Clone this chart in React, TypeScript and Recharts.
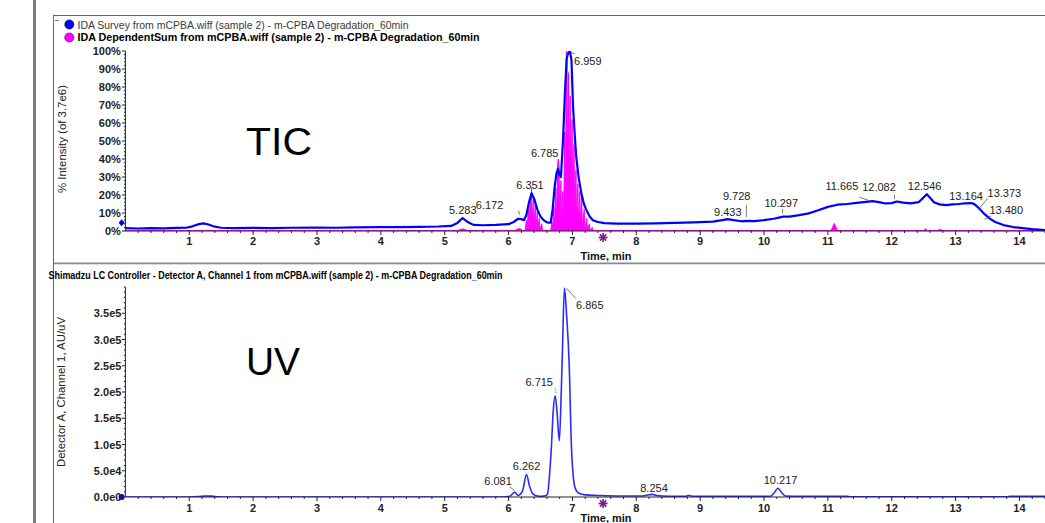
import React from 'react';
import { ComposedChart, Line, Area, XAxis, YAxis, Scatter, ReferenceDot } from 'recharts';

const FONT = '"Liberation Sans", Arial, Helvetica, sans-serif';

// ---------- DATA ----------
// IDA Survey TIC, % intensity (of 3.7e6): [time (min), %]
const ticSurvey: [number, number][] = [
  [0, 1.6], [0.2, 1.4], [0.4, 1.6], [0.6, 1.5], [0.8, 1.7], [0.95, 1.8], [1.05, 2.6], [1.15, 3.8],
  [1.22, 4.2], [1.3, 3.6], [1.4, 2.4], [1.5, 1.8], [1.7, 1.6], [2.0, 1.7], [2.3, 1.6], [2.6, 1.8],
  [3.0, 1.9], [3.3, 1.8], [3.6, 2.0], [4.0, 2.1], [4.3, 2.2], [4.6, 2.3], [4.9, 2.5], [5.1, 2.8],
  [5.2, 4.5], [5.28, 7.2], [5.36, 5.0], [5.45, 3.4], [5.6, 3.2], [5.8, 3.4], [6.0, 3.8], [6.08, 5.0],
  [6.15, 6.8], [6.2, 6.6], [6.24, 6.0], [6.28, 9], [6.32, 16], [6.36, 21], [6.4, 18], [6.45, 12],
  [6.5, 8], [6.55, 6], [6.6, 4.8], [6.66, 4.6], [6.69, 12], [6.72, 24], [6.75, 32], [6.775, 34.6],
  [6.8, 31], [6.82, 30], [6.855, 52], [6.88, 75], [6.91, 96], [6.935, 99], [6.96, 100], [6.985, 95],
  [7.01, 69], [7.035, 54], [7.06, 41], [7.1, 29], [7.14, 21], [7.18, 15], [7.22, 11.6], [7.27, 8],
  [7.32, 6], [7.4, 5], [7.5, 4.4], [7.7, 4.1], [8.0, 4.1], [8.3, 4.2], [8.6, 4.5], [8.9, 4.8],
  [9.2, 5.2], [9.35, 6.0], [9.43, 6.6], [9.52, 6.0], [9.65, 5.4], [9.73, 5.6], [9.85, 5.5], [10.0, 6.0],
  [10.15, 6.8], [10.3, 8.0], [10.4, 8.0], [10.55, 8.8], [10.7, 9.8], [10.85, 11.5], [11.0, 13.4],
  [11.15, 14.6], [11.3, 15.0], [11.45, 15.6], [11.6, 16.2], [11.7, 16.6], [11.8, 16.0], [11.9, 15.3],
  [12.0, 15.5], [12.08, 16.4], [12.18, 15.8], [12.3, 15.3], [12.42, 16.0], [12.48, 18.0], [12.55, 20.4],
  [12.6, 18.5], [12.66, 16.0], [12.75, 14.8], [12.85, 14.4], [12.95, 14.8], [13.05, 15.0], [13.15, 15.4],
  [13.25, 15.5], [13.3, 14.8], [13.37, 12.5], [13.45, 9.5], [13.53, 7.0], [13.62, 5.0], [13.75, 3.3],
  [13.9, 2.2], [14.05, 1.6], [14.2, 1.0], [14.4, 0.5],
];

// IDA Dependent Sum, % intensity: [time (min), %]
const idaDependent: [number, number][] = [
  [0, 0.3], [5.2, 0.3], [5.28, 1.2], [5.36, 0.3], [6.1, 0.3], [6.17, 1.5], [6.22, 0.3], [6.26, 0.3],
  [6.28, 6], [6.29, 0.5], [6.31, 12], [6.32, 1], [6.34, 18], [6.35, 2], [6.36, 24], [6.37, 3],
  [6.39, 19], [6.4, 2], [6.42, 15], [6.43, 1], [6.45, 11], [6.46, 1], [6.48, 7], [6.49, 0.5],
  [6.52, 4], [6.53, 0.3], [6.66, 0.3], [6.68, 5], [6.69, 0.5], [6.71, 14], [6.72, 1], [6.74, 24],
  [6.75, 3], [6.77, 38], [6.78, 40], [6.79, 36], [6.8, 3], [6.82, 28], [6.83, 2], [6.85, 22],
  [6.86, 2], [6.88, 55], [6.89, 5], [6.905, 100], [6.915, 98], [6.925, 10], [6.94, 88], [6.95, 10],
  [6.965, 75], [6.975, 8], [6.995, 62], [7.005, 6], [7.025, 48], [7.035, 5], [7.055, 34], [7.065, 3],
  [7.085, 26], [7.095, 2], [7.115, 22], [7.125, 2], [7.145, 20], [7.155, 2], [7.185, 12], [7.195, 1],
  [7.225, 7], [7.235, 0.5], [7.265, 4], [7.275, 0.3], [7.31, 2], [7.32, 0.3], [11.05, 0.3],
  [11.1, 4.2], [11.15, 0.3], [12.5, 0.3], [12.53, 1.2], [12.56, 0.3], [12.72, 0.3], [12.76, 1.0],
  [12.8, 0.3], [14.4, 0.3],
];

// Shimadzu Detector A, Channel 1 (AU/uV): [time (min), signal]
const uvChannel1: [number, number][] = [
  [0, 0], [1.0, 0], [1.15, 800], [1.25, 2000], [1.35, 1600], [1.45, 400], [1.6, 0], [5.9, 0],
  [6.02, 1500], [6.095, 9000], [6.15, 3000], [6.22, 12000], [6.28, 43000], [6.33, 20000], [6.38, 6000],
  [6.45, 2000], [6.52, 1500], [6.58, 2500], [6.61, 6000], [6.64, 40000], [6.67, 94000], [6.7, 165000],
  [6.73, 193000], [6.76, 160000], [6.795, 107000], [6.825, 200000], [6.845, 285000], [6.875, 398000],
  [6.91, 345000], [6.95, 250000], [6.985, 94000], [7.04, 18000], [7.1, 7000], [7.2, 4000], [7.4, 3000],
  [7.7, 2000], [8.1, 2000], [8.2, 4200], [8.254, 5000], [8.32, 2800], [8.5, 1500], [8.78, 1500],
  [8.82, 3000], [8.88, 1500], [9.5, 1200], [10.1, 1500], [10.16, 8000], [10.217, 16600], [10.28, 8000],
  [10.34, 1800], [10.6, 1200], [11.3, 1200], [11.35, 500], [13.8, 500], [13.85, 1200], [14.1, 1500],
  [14.4, 1500],
];

const ticPeakTimes = [5.283, 6.172, 6.351, 6.785, 6.959, 9.433, 9.728, 10.297, 11.665, 12.082, 12.546, 13.164, 13.373, 13.48];
const ticPeakHeights = [7.2, 6.8, 21, 34, 100, 6.6, 5.6, 8.0, 16.6, 16.4, 20.4, 15.4, 12.5, 8.6];
const uvPeakTimes = [6.081, 6.262, 6.715, 6.865, 8.254, 10.217];
const uvPeakHeights = [9000, 43000, 193000, 398000, 5000, 16600];

const xMajorTicks = [1, 2, 3, 4, 5, 6, 7, 8, 9, 10, 11, 12, 13, 14];
const ticYMajorTicks = [0, 10, 20, 30, 40, 50, 60, 70, 80, 90, 100];
const uvYMajorTicks = [0, 50000, 100000, 150000, 200000, 250000, 300000, 350000];
const injectionMarkTime = 7.48;
const ticMarkerLevel = 4.6;

// ---------- derived ----------
const ticData = ticSurvey.map(([t, v]) => ({ t, v }));
const idaData = idaDependent.map(([t, v]) => ({ t, v }));
const uvData = uvChannel1.map(([t, v]) => ({ t, v }));
const ticPeaks = ticPeakTimes.map((t, i) => ({ t, v: ticPeakHeights[i], label: t.toFixed(3) }));
const uvPeaks = uvPeakTimes.map((t, i) => ({ t, v: uvPeakHeights[i], label: t.toFixed(3) }));

const xAllTicks = Array.from({ length: 72 }, (_, i) => Math.round((i + 1) * 2) / 10);
const ticYAllTicks = Array.from({ length: 51 }, (_, i) => i * 2);
const uvYAllTicks = Array.from({ length: 41 }, (_, i) => i * 10000);

const near = (v: number, list: number[]) => list.some((m) => Math.abs(m - v) < 1e-6);

type LabelLayout = { dx: number; dy: number; line?: number[]; dashed?: boolean };

const ticLabelLayout: Record<string, LabelLayout> = {
  '5.283': { dx: 0, dy: -4 },
  '6.172': { dx: -30, dy: -10, line: [0, -4, -1, -8] },
  '6.351': { dx: -1, dy: -4 },
  '6.785': { dx: -14, dy: -13 },
  '6.959': { dx: 18, dy: 13.5, line: [0, 0.5, 5, 3] },
  '9.433': { dx: 0, dy: -3.6 },
  '9.728': { dx: -10, dy: -21, line: [-0.3, -4, -0.3, -16] },
  '10.297': { dx: -1.7, dy: -9.6, line: [-0.4, -3.6, -0.4, -7.6] },
  '11.665': { dx: -28.5, dy: -11, line: [-10.8, -3.8, -0.8, -0.4] },
  '12.082': { dx: -18, dy: -10.5, line: [-2.4, -2.5, -2.4, -6.5] },
  '12.546': { dx: -2, dy: -4.3 },
  '13.164': { dx: 0, dy: -3.3 },
  '13.373': { dx: 25, dy: -11.5, line: [-1.6, 1.5, 8.4, -10.2] },
  '13.480': { dx: 20, dy: -1.5, line: [-1.8, 3.8, 4.9, 0.5] },
};

const uvLabelLayout: Record<string, LabelLayout> = {
  '6.081': { dx: -15.7, dy: -6.8, line: [-4, -5.6, 1, -1.3] },
  '6.262': { dx: 1.2, dy: -4 },
  '6.715': { dx: -15, dy: -10, line: [1.5, -7.7, 1.5, -2.7], dashed: true },
  '6.865': { dx: 26, dy: 21, line: [2.6, 0.3, 12, 10.3] },
  '8.254': { dx: 1.5, dy: -2 },
  '10.217': { dx: 2.7, dy: -4.3 },
};

// ---------- renderers ----------
const makeXTick = (labelOffset: number) => (props: any) => {
  const { x, y, payload } = props;
  const v = payload.value;
  const major = near(v, xMajorTicks);
  return (
    <g>
      <line x1={x} x2={x} y1={y} y2={y + (major ? 4 : 2)} stroke="#222" strokeWidth={1} />
      {major && (
        <text x={x} y={y + labelOffset} textAnchor="middle" fontFamily={FONT} fontSize={11} fontWeight="bold" fill="#222">
          {v}
        </text>
      )}
    </g>
  );
};

const TicYTick = (props: any) => {
  const { x, y, payload } = props;
  const v = payload.value;
  const major = near(v, ticYMajorTicks);
  return (
    <g>
      <line x1={x} x2={x - (major ? 3.5 : 1.5)} y1={y} y2={y} stroke="#222" strokeWidth={1} />
      {major && (
        <text x={x - 4.5} y={y + 4} textAnchor="end" fontFamily={FONT} fontSize={11} fontWeight="bold" fill="#222">
          {v}%
        </text>
      )}
    </g>
  );
};

const uvFmt = (v: number) => (v === 0 ? '0.0e0' : v.toExponential(1).replace('e+', 'e'));

const UvYTick = (props: any) => {
  const { x, y, payload } = props;
  const v = payload.value;
  const major = near(v, uvYMajorTicks);
  return (
    <g>
      <line x1={x} x2={x - (major ? 3.5 : 1.5)} y1={y} y2={y} stroke="#222" strokeWidth={1} />
      {major && (
        <text x={x - 4} y={y + 4} textAnchor="end" fontFamily={FONT} fontSize={11} fontWeight="bold" fill="#222">
          {uvFmt(v)}
        </text>
      )}
    </g>
  );
};

const makePeakLabel = (layout: Record<string, LabelLayout>) => (props: any) => {
  const { cx, cy, payload } = props;
  if (cx == null || cy == null || !payload) return <g />;
  const key = payload.label;
  const l = layout[key] || { dx: 0, dy: -4 };
  return (
    <g>
      {l.line && (
        <line
          x1={cx + l.line[0]}
          y1={cy + l.line[1]}
          x2={cx + l.line[2]}
          y2={cy + l.line[3]}
          stroke="#555"
          strokeWidth={0.8}
          strokeDasharray={l.dashed ? '1 1' : undefined}
        />
      )}
      <text x={cx + l.dx} y={cy + l.dy} textAnchor="middle" fontFamily={FONT} fontSize={11} fill="#222">
        {key}
      </text>
    </g>
  );
};

const Asterisk = (props: any) => {
  const { cx, cy } = props;
  if (cx == null || cy == null) return <g />;
  const c = cy + 6.5;
  const r = 4.5;
  const d = r * 0.7071;
  return (
    <g stroke="#7b1a8c" strokeWidth={1.6}>
      <line x1={cx} y1={c - r} x2={cx} y2={c + r} />
      <line x1={cx - r} y1={c} x2={cx + r} y2={c} />
      <line x1={cx - d} y1={c - d} x2={cx + d} y2={c + d} />
      <line x1={cx - d} y1={c + d} x2={cx + d} y2={c - d} />
    </g>
  );
};

const Diamond = (props: any) => {
  const { cx, cy } = props;
  if (cx == null || cy == null) return <g />;
  const x = cx - 3.8;
  return <polygon points={`${x},${cy - 3.5} ${x + 3},${cy} ${x},${cy + 3.5} ${x - 3},${cy}`} fill="#0000ee" />;
};

const Dot = (props: any) => {
  const { cx, cy } = props;
  if (cx == null || cy == null) return <g />;
  return <circle cx={cx - 3.8} cy={cy} r={3} fill="#0000ee" />;
};

const XTickTop = makeXTick(14);
const XTickBottom = makeXTick(15);
const TicLabel = makePeakLabel(ticLabelLayout);
const UvLabel = makePeakLabel(uvLabelLayout);

export default function App() {
  return (
    <div style={{ position: 'relative', width: 1045, height: 523, overflow: 'hidden', background: '#fff', fontFamily: FONT }}>
      <style>{'body{margin:0;background:#fff;}'}</style>

      {/* TIC panel */}
      <div style={{ position: 'absolute', left: 0, top: 0 }}>
        <ComposedChart width={1045} height={265} data={idaData} margin={{ top: 51, right: 0, bottom: 4, left: 0 }}>
          <XAxis
            dataKey="t"
            type="number"
            domain={[0, 14.4]}
            allowDataOverflow
            ticks={xAllTicks}
            interval={0}
            tickSize={0}
            tickMargin={0}
            tickLine={false}
            tick={<XTickTop />}
            axisLine={{ stroke: '#222' }}
            height={30}
          />
          <YAxis
            type="number"
            domain={[0, 100]}
            allowDataOverflow
            ticks={ticYAllTicks}
            interval={0}
            tickSize={0}
            tickMargin={0}
            tickLine={false}
            tick={<TicYTick />}
            axisLine={{ stroke: '#222' }}
            width={125.4}
          />
          <Area
            dataKey="v"
            type="linear"
            stroke="#ff00ff"
            strokeWidth={1}
            fill="#ff00ff"
            fillOpacity={1}
            dot={false}
            activeDot={false}
            isAnimationActive={false}
          />
          <Line
            data={ticData}
            dataKey="v"
            type="linear"
            stroke="#0000ff"
            strokeWidth={2.2}
            strokeLinejoin="round"
            dot={false}
            activeDot={false}
            isAnimationActive={false}
          />
          <Scatter data={ticPeaks} dataKey="v" shape={TicLabel} isAnimationActive={false} />
          <ReferenceDot x={injectionMarkTime} y={0} r={0} shape={Asterisk} />
          <ReferenceDot x={0} y={ticMarkerLevel} r={0} shape={Diamond} />
        </ComposedChart>
      </div>

      {/* UV panel */}
      <div style={{ position: 'absolute', left: 0, top: 265 }}>
        <ComposedChart width={1045} height={258} margin={{ top: 22, right: 0, bottom: 2, left: 0 }}>
          <XAxis
            dataKey="t"
            type="number"
            domain={[0, 14.4]}
            allowDataOverflow
            ticks={xAllTicks}
            interval={0}
            tickSize={0}
            tickMargin={0}
            tickLine={false}
            tick={<XTickBottom />}
            axisLine={{ stroke: '#222' }}
            height={24}
          />
          <YAxis
            type="number"
            domain={[0, 400000]}
            allowDataOverflow
            ticks={uvYAllTicks}
            interval={0}
            tickSize={0}
            tickMargin={0}
            tickLine={false}
            tick={<UvYTick />}
            axisLine={{ stroke: '#222' }}
            width={125.4}
          />
          <Line
            data={uvData}
            dataKey="v"
            type="monotone"
            stroke="#2b2bff"
            strokeWidth={1.6}
            dot={false}
            activeDot={false}
            isAnimationActive={false}
          />
          <Scatter data={uvPeaks} dataKey="v" shape={UvLabel} isAnimationActive={false} />
          <ReferenceDot x={injectionMarkTime} y={0} r={0} shape={Asterisk} />
          <ReferenceDot x={0} y={0} r={0} shape={Dot} />
        </ComposedChart>
      </div>

      {/* frame, titles and legend */}
      <svg width={1045} height={523} style={{ position: 'absolute', left: 0, top: 0, pointerEvents: 'none' }}>
        <rect x={33} y={0} width={3} height={523} fill="#7a7a7a" />
        <line x1={53.5} y1={15} x2={53.5} y2={523} stroke="#666" strokeWidth={1} />
        <line x1={53} y1={15.5} x2={1045} y2={15.5} stroke="#666" strokeWidth={1} />
        <rect x={54} y={262.5} width={991} height={1.8} fill="#8a8a8a" />

        <line x1={55} y1={20.5} x2={59} y2={20.5} stroke="#777" strokeWidth={1} />
        <circle cx={69.3} cy={24.5} r={4.6} fill="#0000ff" stroke="#000060" strokeWidth={0.6} />
        <text x={77.5} y={28.5} fontFamily={FONT} fontSize={10.5} fill="#3a3a3a" textLength={331} lengthAdjust="spacingAndGlyphs">
          IDA Survey from mCPBA.wiff (sample 2) - m-CPBA Degradation_60min
        </text>
        <circle cx={69.3} cy={37.5} r={4.6} fill="#ff00ff" stroke="#600060" strokeWidth={0.6} />
        <text x={77.5} y={41.3} fontFamily={FONT} fontSize={10.5} fontWeight="bold" fill="#000" textLength={402} lengthAdjust="spacingAndGlyphs">
          IDA DependentSum from mCPBA.wiff (sample 2) - m-CPBA Degradation_60min
        </text>

        <text x={48.5} y={279} fontFamily={FONT} fontSize={10.5} fontWeight="bold" fill="#000" textLength={454} lengthAdjust="spacingAndGlyphs">
          Shimadzu LC Controller - Detector A, Channel 1 from mCPBA.wiff (sample 2) - m-CPBA Degradation_60min
        </text>

        <text
          x={65.5}
          y={139}
          transform="rotate(-90 65.5 139)"
          textAnchor="middle"
          fontFamily={FONT}
          fontSize={10.5}
          fill="#222"
          textLength={108}
          lengthAdjust="spacingAndGlyphs"
        >
          % Intensity (of 3.7e6)
        </text>
        <text
          x={65}
          y={392}
          transform="rotate(-90 65 392)"
          textAnchor="middle"
          fontFamily={FONT}
          fontSize={10.5}
          fill="#222"
          textLength={150}
          lengthAdjust="spacingAndGlyphs"
        >
          Detector A, Channel 1, AU/uV
        </text>

        <text x={606} y={260} textAnchor="middle" fontFamily={FONT} fontSize={10.5} fontWeight="bold" fill="#111" textLength={51} lengthAdjust="spacingAndGlyphs">
          Time, min
        </text>
        <text x={606} y={521.5} textAnchor="middle" fontFamily={FONT} fontSize={10.5} fontWeight="bold" fill="#111" textLength={51} lengthAdjust="spacingAndGlyphs">
          Time, min
        </text>

        <text x={246} y={155} fontFamily={FONT} fontSize={38} fill="#000" textLength={66} lengthAdjust="spacingAndGlyphs">
          TIC
        </text>
        <text x={246} y={375} fontFamily={FONT} fontSize={38} fill="#000" textLength={54} lengthAdjust="spacingAndGlyphs">
          UV
        </text>
      </svg>
    </div>
  );
}
